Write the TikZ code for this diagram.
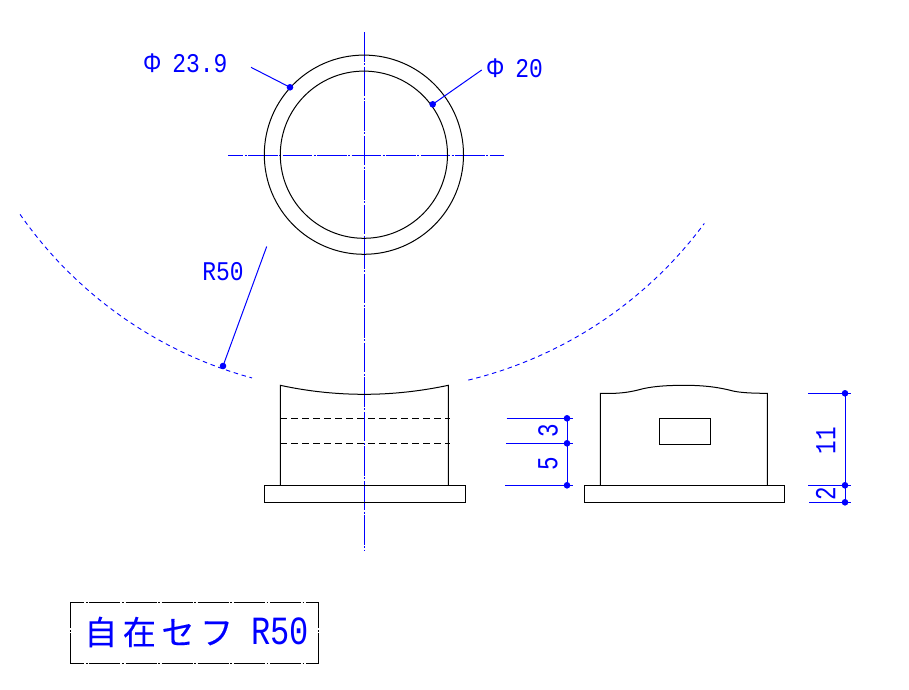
\documentclass[tikz,border=0pt]{standalone}
\usepackage{fontspec}
\setmainfont{Liberation Sans}
\newfontfamily\dimfont[FakeStretch=0.85]{Liberation Mono}
\newfontfamily\dimfontv[FakeStretch=0.78]{Liberation Mono}
\newfontfamily\phifont[FakeStretch=0.85]{Liberation Sans}
\newfontfamily\titlelatin[FakeStretch=0.8]{Liberation Mono}
\newfontfamily\titlecjk[LetterSpace=17,FakeBold=0.4]{Noto Sans CJK JP}
\definecolor{cadblue}{RGB}{0,0,255}
\tikzset{
  outline/.style={draw=black,line width=1pt},
  hiddenline/.style={draw=black,line width=1pt,dash pattern=on 7pt off 4pt},
  centerline/.style={draw=cadblue,line width=1pt,dash pattern=on 29.5pt off 1.5pt on 2pt off 1.5pt},
  dimline/.style={draw=cadblue,line width=1pt},
  radiusarc/.style={draw=cadblue,line width=0.9pt,dash pattern=on 4.5pt off 3.7pt},
  titleframe/.style={draw=black,line width=1pt,dash pattern=on 31pt off 1.7pt on 1.7pt off 1.7pt},
  dot/.style={circle,fill=cadblue,inner sep=0pt,minimum size=6.6pt},
  dimlabel/.style={text=cadblue,inner sep=0pt,font=\dimfont\fontsize{27}{27}\selectfont},
  dimlabelv/.style={text=cadblue,inner sep=0pt,rotate=90,font=\dimfontv\fontsize{29}{29}\selectfont}
}
\newcommand{\bigphi}{{\phifont Φ}\hspace{-3pt}}
\begin{document}
\begin{tikzpicture}[x=1pt,y=-1pt]
\useasboundingbox (0,0) rectangle (909,689);
% centre lines
\coordinate (cvt) at (364.7,32);
\coordinate (cvb) at (364.7,550);
\coordinate (chl) at (228,155.3);
\coordinate (chr) at (504,155.3);
\draw[centerline] (cvt) -- (cvb);
\draw[centerline,dash phase=14.5pt] (chl) -- (chr);
% plan circles
\coordinate (cc) at (363.9,154.7);
\draw[outline] (cc) circle[radius=99.6pt];
\draw[outline] (cc) circle[radius=83.6pt];
% radius arc
\draw[radiusarc] plot[domain=-55.15:-15.25,samples=70,smooth] ({361.4+416*sin(\x)},{-23.4+416*cos(\x)});
\draw[radiusarc] plot[domain=13.67:53.48,samples=70,smooth] ({370+416*sin(\x)},{-24.1+416*cos(\x)});
% front view
\draw[outline] (280.3,485.3) -- (280.3,385.3) .. controls (308,391.3) and (336,394.3) .. (364.3,394.3) .. controls (392,394.3) and (420,391.3) .. (448.3,385.3) -- (448.3,485.3);
\draw[hiddenline] (280.3,418.3) -- (450,418.3);
\draw[hiddenline] (280.3,443.3) -- (450,443.3);
\draw[outline] (264.3,485.3) rectangle (465.7,502.3);
% side view
\draw[outline] (600.3,485.3) -- (600.3,393.3) -- (615,393.3) .. controls (625,392.8) and (632,391.5) .. (638,390) .. controls (650,386.5) and (665,385.3) .. (685,385.3) .. controls (705,385.3) and (720,387.5) .. (733,391) .. controls (740,392.5) and (750,393.3) .. (767.3,393.3) -- (767.3,485.3);
\draw[outline] (659.3,418.3) rectangle (710.3,444.3);
\draw[outline] (584.3,485.3) rectangle (784.3,502.3);
% leaders
\node[dot] (d239) at (290,87.3) {};
\coordinate (l239) at (251,67.3);
\draw[dimline] (l239) -- (d239.center);
\node[dot] (d20) at (432.7,104.3) {};
\coordinate (l20) at (481.7,70);
\draw[dimline] (l20) -- (d20.center);
\node[dot] (dr) at (223,366) {};
\coordinate (lr) at (266.7,246.5);
\draw[dimline] (lr) -- (dr.center);
% dimensions left
\node[dot] (a1) at (567,418.3) {};
\node[dot] (a2) at (567,443.3) {};
\node[dot] (a3) at (567,485.3) {};
\coordinate (a1l) at (506.7,418.3);
\coordinate (a1r) at (572.7,418.3);
\coordinate (a2l) at (506,443.3);
\coordinate (a2r) at (572.7,443.3);
\coordinate (a3l) at (505,485.3);
\coordinate (a3r) at (572.7,485.3);
\draw[dimline] (a1l) -- (a1r);
\draw[dimline] (a2l) -- (a2r);
\draw[dimline] (a3l) -- (a3r);
\draw[dimline] (a1.center) -- (a3.center);
% dimensions right
\node[dot] (b1) at (845,393.3) {};
\node[dot] (b2) at (845,485.3) {};
\node[dot] (b3) at (845,502.3) {};
\coordinate (b1l) at (808.3,393.3);
\coordinate (b1r) at (850.7,393.3);
\coordinate (b2l) at (808.3,485.3);
\coordinate (b2r) at (850.7,485.3);
\coordinate (b3l) at (809,502.3);
\coordinate (b3r) at (850.7,502.3);
\draw[dimline] (b1l) -- (b1r);
\draw[dimline] (b2l) -- (b2r);
\draw[dimline] (b3l) -- (b3r);
\draw[dimline] (b1.center) -- (b3.center);
% labels
\node[dimlabel,anchor=base west] (t239) at (143,72) {\bigphi\ 23.9};
\node[dimlabel,anchor=base west] (t20) at (486,77.5) {\bigphi\ 20};
\node[dimlabel] (tr) at (223,272) {R50};
\node[dimlabelv] (t3) at (548,431) {3};
\node[dimlabelv] (t5) at (548,464) {5};
\node[dimlabelv] (t11) at (825.7,440.5) {11};
\node[dimlabelv] (t2) at (825.7,494) {2};
% title
\coordinate (fa) at (70.3,602.3);
\coordinate (fb) at (318.7,602.3);
\coordinate (fc) at (318.7,663.3);
\coordinate (fd) at (70.3,663.3);
\draw[titleframe,dash phase=17pt] (fa) -- (fb);
\draw[titleframe,dash phase=17pt] (fd) -- (fc);
\draw[titleframe,dash phase=5pt] (fa) -- (fd);
\draw[titleframe,dash phase=5pt] (fb) -- (fc);
\node[inner sep=0pt,text=cadblue] (title) at (196.5,632) {\titlecjk\fontsize{33}{33}\selectfont 自在セフ\hspace{18pt}\titlelatin\fontsize{40}{40}\selectfont R50};
\end{tikzpicture}
\end{document}
